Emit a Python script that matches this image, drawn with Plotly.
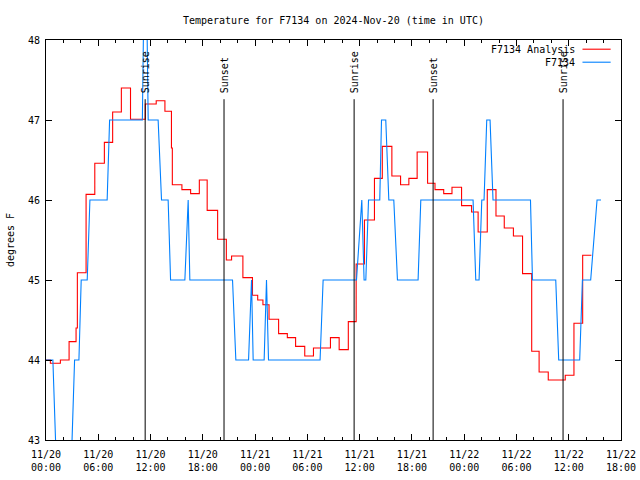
import pandas as pd
import plotly.graph_objects as go

BASE = pd.Timestamp("2024-11-20 00:00")

# F7134 Analysis (hours since 11/20 00:00 UTC, degrees F) - step data
red_hours = [0.0, 0.5, 1.65, 2.65, 3.45, 3.6, 4.6, 5.6, 6.7, 7.65, 8.65, 9.7, 11.4, 12.65,
             13.65, 14.4, 14.5, 15.6, 16.6, 17.6, 18.5, 19.7, 20.7, 21.3, 22.6, 23.7, 24.3,
             24.9, 25.6, 26.7, 27.7, 28.65, 29.7, 30.7, 32.65, 33.65, 34.7, 35.6, 36.55,
             37.7, 38.6, 39.7, 40.7, 41.65, 42.6, 43.8, 44.65, 45.65, 46.6, 47.7, 48.85,
             49.6, 50.65, 51.65, 52.6, 53.65, 54.7, 55.75, 56.6, 57.65, 59.6, 60.6, 61.6,
             62.6]
red_vals = [44.0, 43.96, 44.0, 44.23, 44.4, 45.09, 46.07, 46.46, 46.72, 47.10, 47.40, 47.01,
            47.2, 47.24, 47.11, 46.65, 46.19, 46.13, 46.08, 46.25, 45.87, 45.51, 45.25,
            45.3, 45.03, 44.81, 44.75, 44.69, 44.51, 44.33, 44.28, 44.17, 44.05, 44.15,
            44.28, 44.13, 44.48, 45.2, 45.75, 46.27, 46.67, 46.3, 46.19, 46.27, 46.6, 46.21,
            46.13, 46.08, 46.16, 45.93, 45.85, 45.6, 46.13, 45.8, 45.65, 45.55, 45.08,
            44.11, 43.85, 43.75, 43.81, 44.46, 45.31, 45.31]

# F7134 observations
blue_hours = [0.0, 0.79, 1.4, 2.7, 3.28, 3.78, 4.04, 4.73, 5.04, 7.02, 7.3, 11.06, 11.29,
              11.5, 11.73, 12.87, 13.26, 14.02, 14.3, 15.94, 16.32, 16.51, 21.41, 21.79,
              23.25, 23.59, 23.78, 25.04, 25.31, 25.54, 31.46, 31.81, 35.64, 36.25, 36.51,
              36.71, 37.02, 38.31, 38.51, 39.0, 39.35, 39.92, 40.34, 42.71, 43.02, 49.02,
              49.33, 49.71, 50.02, 50.28, 50.59, 50.97, 51.31, 55.61, 55.84, 58.51, 58.85,
              61.26, 61.57, 62.52, 63.25, 63.71]
blue_vals = [44, 44, 42, 42, 44, 44, 45, 45, 46, 46, 47, 47, 49, 49, 47, 47, 46, 46, 45, 45,
             46, 45, 45, 44, 44, 45, 44, 44, 45, 44, 44, 45, 45, 46, 45, 45, 46, 46, 47, 47,
             46, 46, 45, 45, 46, 46, 45, 45, 46, 46, 47, 47, 46, 46, 45, 45, 44, 44, 45, 45,
             46, 46]

sun_labels = ["Sunrise", "Sunset", "Sunrise", "Sunset", "Sunrise"]
sun_times = ["2024-11-20 11:23", "2024-11-20 20:26", "2024-11-21 11:22",
             "2024-11-21 20:26", "2024-11-22 11:21"]
sun_line_top = 47.26

tick_hours = [0, 6, 12, 18, 24, 30, 36, 42, 48, 54, 60, 66]
tick_labels = ["11/20<br>00:00", "11/20<br>06:00", "11/20<br>12:00", "11/20<br>18:00",
               "11/21<br>00:00", "11/21<br>06:00", "11/21<br>12:00", "11/21<br>18:00",
               "11/22<br>00:00", "11/22<br>06:00", "11/22<br>12:00", "11/22<br>18:00"]

series_names = ["F7134 Analysis", "F7134"]
series_colors = ["#ff0000", "#0080ff"]


def to_time(hours):
    return [BASE + pd.Timedelta(hours=h) for h in hours]


FONT = "DejaVu Sans Mono"

fig = go.Figure()
fig.add_trace(go.Scatter(x=to_time(red_hours), y=red_vals, mode="lines",
                         line=dict(color=series_colors[0], width=1.1, shape="hv"),
                         name=series_names[0]))
fig.add_trace(go.Scatter(x=to_time(blue_hours), y=blue_vals, mode="lines",
                         line=dict(color=series_colors[1], width=1.1),
                         name=series_names[1]))

for lab, t in zip(sun_labels, sun_times):
    ts = pd.Timestamp(t)
    fig.add_shape(type="line", xref="x", yref="y", x0=ts, x1=ts, y0=43, y1=sun_line_top,
                  line=dict(color="black", width=1))
    fig.add_annotation(x=ts, y=sun_line_top + 0.05, xref="x", yref="y", text=lab,
                       textangle=-90, showarrow=False, xanchor="center", yanchor="bottom",
                       font=dict(family=FONT, size=10, color="black"))

# gnuplot-style legend: text on the left, sample line on the right
for i, (nm, col) in enumerate(zip(series_names, series_colors)):
    yp = 0.977 - i * 0.0325
    fig.add_annotation(x=0.924, y=yp, xref="paper", yref="paper", text=nm,
                       showarrow=False, xanchor="right", yanchor="middle",
                       font=dict(family=FONT, size=10, color="black"))
    fig.add_shape(type="line", xref="paper", yref="paper", x0=0.933, x1=0.982, y0=yp, y1=yp,
                  line=dict(color=col, width=1.1))

fig.update_layout(
    width=640, height=480,
    margin=dict(l=46, r=19, t=40, b=40, autoexpand=False),
    paper_bgcolor="white", plot_bgcolor="white",
    showlegend=False,
    title=dict(text="Temperature for F7134 on 2024-Nov-20 (time in UTC)", x=0.521,
               xanchor="center", y=0.958, yanchor="middle",
               font=dict(family=FONT, size=10, color="black")),
    font=dict(family=FONT, size=10, color="black"),
)

fig.update_xaxes(
    type="date", automargin=False,
    range=[BASE, BASE + pd.Timedelta(hours=66)],
    tickmode="array", tickvals=to_time(tick_hours), ticktext=tick_labels,
    ticks="inside", ticklen=6, tickcolor="black", showline=True, linecolor="black",
    linewidth=1, mirror="ticks", showgrid=False, zeroline=False, ticklabelstandoff=5,
    minor=dict(ticks="inside", ticklen=3, dtick=2 * 3600 * 1000, tick0=BASE,
               tickcolor="black", showgrid=False),
    tickfont=dict(family=FONT, size=10, color="black"),
)
fig.update_yaxes(
    automargin=False,
    range=[43, 48], dtick=1, tick0=43,
    ticks="inside", ticklen=6, tickcolor="black", showline=True, linecolor="black",
    linewidth=1, mirror="ticks", showgrid=False, zeroline=False, ticklabelstandoff=3,
    title=dict(text="degrees F", font=dict(family=FONT, size=10, color="black"), standoff=11),
    tickfont=dict(family=FONT, size=10, color="black"),
)

fig.write_html("out.html", config={"displayModeBar": False},
               post_script="document.body.style.margin='0';")
